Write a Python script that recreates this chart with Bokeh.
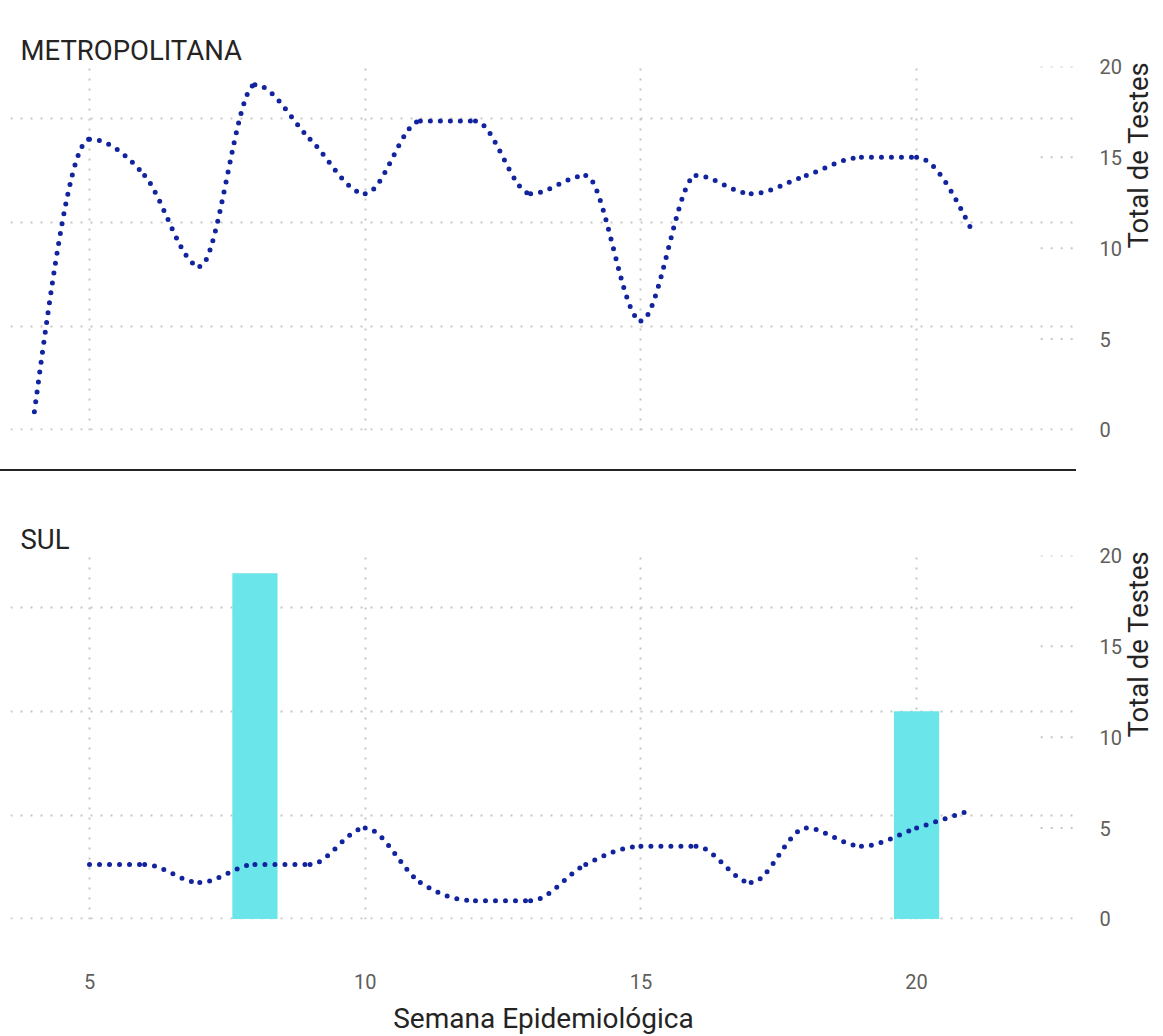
import math
from bokeh.plotting import figure
from bokeh.models import Range1d, LinearAxis, Grid, FixedTicker, Div, Title
from bokeh.layouts import column
from bokeh.embed import file_html
from bokeh.resources import INLINE

# ---- data ----
weeks_metro = [4, 5, 6, 7, 8, 9, 10, 11, 12, 13, 14, 15, 16, 17, 18, 19, 20, 21]
tests_metro = [1, 16, 14, 9, 19, 16, 13, 17, 17, 13, 14, 6, 14, 13, 14, 15, 15, 11]

weeks_sul = [5, 6, 7, 8, 9, 10, 11, 12, 13, 14, 15, 16, 17, 18, 19, 20, 21]
tests_sul = [3, 3, 2, 3, 3, 5, 2, 1, 1, 3, 4, 4, 2, 5, 4, 5, 6]

bar_weeks_sul = [8, 20]
bar_rate_sul = [0.333, 0.2]

x_ticks = [5, 10, 15, 20]
tests_ticks = [0, 5, 10, 15, 20]
rate_ticks = [0, 0.1, 0.2, 0.3]

# ---- style ----
FONT = "Roboto"
LINE_COLOR = "#12239E"
BAR_COLOR = "#6AE5EA"
GRID_COLOR = "#C8C6C4"
TITLE_COLOR = "#252423"
TICK_COLOR = "#605E5C"
X_START, X_END = 3.567, 22.9
RIGHT_GRID_START = 22.25
FRAME_W, FRAME_H = 1066, 364
TITLE_GAP = 24


def monotone_beziers(xs, ys):
    """Control points for a monotone cubic (d3 curveMonotoneX style) drawn as Bezier segments."""
    n = len(xs)
    h = [xs[i + 1] - xs[i] for i in range(n - 1)]
    s = [(ys[i + 1] - ys[i]) / h[i] for i in range(n - 1)]
    sign = lambda v: -1 if v < 0 else 1
    t = [0.0] * n
    for i in range(1, n - 1):
        p = (s[i - 1] * h[i] + s[i] * h[i - 1]) / (h[i - 1] + h[i])
        t[i] = (sign(s[i - 1]) + sign(s[i])) * min(abs(s[i - 1]), abs(s[i]), 0.5 * abs(p))
    t[0] = (3 * s[0] - t[1]) / 2
    t[-1] = (3 * s[-1] - t[-2]) / 2
    out = dict(x0=[], y0=[], x1=[], y1=[], cx0=[], cy0=[], cx1=[], cy1=[])
    for i in range(n - 1):
        d = h[i] / 3
        out["x0"].append(xs[i]); out["y0"].append(ys[i])
        out["x1"].append(xs[i + 1]); out["y1"].append(ys[i + 1])
        out["cx0"].append(xs[i] + d); out["cy0"].append(ys[i] + d * t[i])
        out["cx1"].append(xs[i + 1] - d); out["cy1"].append(ys[i + 1] - d * t[i + 1])
    return out


def make_panel(title, weeks, tests, top_border, with_xaxis, bars=None):
    p = figure(
        frame_width=FRAME_W, frame_height=FRAME_H,
        x_range=Range1d(X_START, X_END), y_range=Range1d(-0.0005, 0.35),
        x_axis_location=None, y_axis_location=None,
        toolbar_location=None, output_backend="svg",
        min_border_left=10, min_border_right=0,
        min_border_top=top_border, min_border_bottom=39 if not with_xaxis else 0,
        outline_line_color=None, background_fill_color="white",
        border_fill_color="white",
    )
    p.center = [r for r in p.center if not isinstance(r, Grid)]
    p.extra_y_ranges = {"line": Range1d(-0.03, 20)}

    # invisible spacer between the title and the plot area (no ticks, white tick style)
    gap_ax = LinearAxis(ticker=FixedTicker(ticks=[]))
    gap_ax.axis_line_color = None
    gap_ax.major_tick_line_color = "white"
    gap_ax.minor_tick_line_color = None
    gap_ax.major_tick_in = 0
    gap_ax.major_tick_out = TITLE_GAP
    gap_ax.minor_tick_out = 0
    gap_ax.major_label_standoff = 0
    p.add_layout(gap_ax, "above")

    p.add_layout(Title(text=title, text_font=FONT, text_font_size="27.5px",
                       text_font_style="normal", text_color=TITLE_COLOR,
                       align="left", vertical_align="bottom", offset=10, standoff=0), "above")

    grid_kw = dict(grid_line_color=GRID_COLOR, grid_line_width=2, grid_line_dash="2 8")
    p.add_layout(Grid(dimension=1, ticker=FixedTicker(ticks=rate_ticks), **grid_kw))
    p.add_layout(Grid(dimension=0, ticker=FixedTicker(ticks=x_ticks), **grid_kw))
    p.segment(x0=[RIGHT_GRID_START] * 4, x1=[X_END] * 4, y0=tests_ticks[1:], y1=tests_ticks[1:],
              y_range_name="line", line_color=GRID_COLOR, line_width=2, line_dash="2 8")

    yax = LinearAxis(y_range_name="line", ticker=FixedTicker(ticks=tests_ticks))
    yax.axis_line_color = None
    yax.major_tick_line_color = None
    yax.minor_tick_line_color = None
    yax.major_label_standoff = 17
    yax.major_label_text_font = FONT
    yax.major_label_text_font_size = "20px"
    yax.major_label_text_color = TICK_COLOR
    yax.axis_label = "Total de Testes"
    yax.axis_label_text_font = FONT
    yax.axis_label_text_font_size = "27.5px"
    yax.axis_label_text_font_style = "normal"
    yax.axis_label_text_color = TITLE_COLOR
    yax.axis_label_standoff = 14
    yax.axis_label_orientation = math.pi / 2
    p.add_layout(yax, "right")

    if with_xaxis:
        xax = LinearAxis(ticker=FixedTicker(ticks=x_ticks))
        xax.axis_line_color = None
        xax.major_tick_line_color = None
        xax.minor_tick_line_color = None
        xax.major_label_standoff = 48
        xax.major_label_text_font = FONT
        xax.major_label_text_font_size = "20px"
        xax.major_label_text_color = TICK_COLOR
        xax.axis_label = "Semana Epidemiológica"
        xax.axis_label_text_font = FONT
        xax.axis_label_text_font_size = "28px"
        xax.axis_label_text_font_style = "normal"
        xax.axis_label_text_color = TITLE_COLOR
        xax.axis_label_standoff = 10
        p.add_layout(xax, "below")

    if bars is not None:
        p.vbar(x=bars[0], top=bars[1], width=0.82, fill_color=BAR_COLOR, line_color=None)

    bz = monotone_beziers(weeks, tests)
    p.bezier(y_range_name="line", line_color=LINE_COLOR, line_width=5,
             line_dash="0 10", line_cap="round", **bz)
    return p


p1 = make_panel("METROPOLITANA", weeks_metro, tests_metro, 66, False)
divider = Div(text="", width=1076, height=2, margin=(0, 0, 0, 0),
              styles={"background-color": "#252423"})
spacer = Div(text="", width=1076, height=20, margin=(0, 0, 0, 0))
p2 = make_panel("SUL", weeks_sul, tests_sul, 64, True, bars=(bar_weeks_sul, bar_rate_sul))

layout = column(p1, divider, spacer, p2, spacing=0)
open("out.html", "w").write(file_html(layout, INLINE))
